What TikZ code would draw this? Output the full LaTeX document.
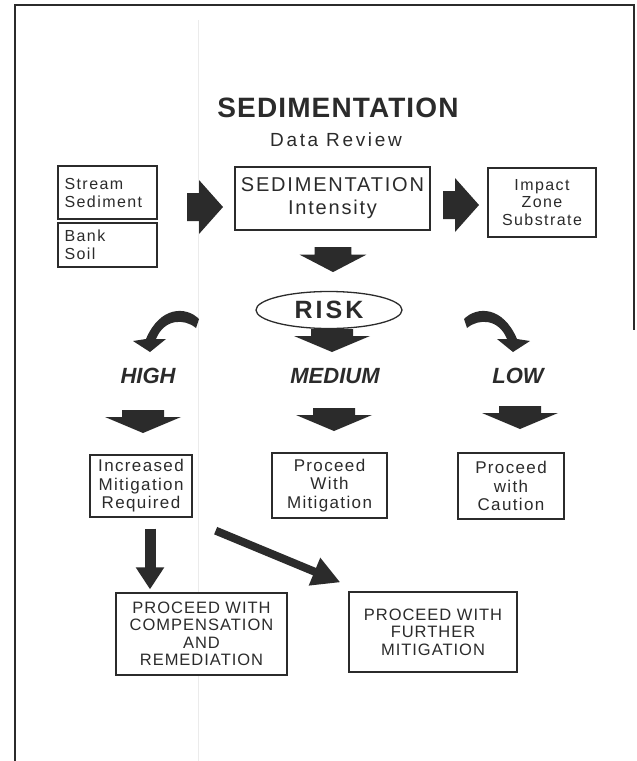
\documentclass[tikz,border=0pt]{standalone}
\usepackage{fontspec}
\setmainfont{Liberation Sans}
\newfontfamily\lssmall[LetterSpace=9]{Liberation Sans}
\newfontfamily\lsmidbox[LetterSpace=8]{Liberation Sans}
\newfontfamily\lsmid[LetterSpace=9]{Liberation Sans}
\newfontfamily\lsdr[LetterSpace=14]{Liberation Sans}
\newfontfamily\lsrisk[LetterSpace=12]{Liberation Sans}
\newfontfamily\lstitle[LetterSpace=4]{Liberation Sans}
\newfontfamily\lsbig[LetterSpace=6]{Liberation Sans}
\usetikzlibrary{calc,arrows.meta,shapes.geometric}
\definecolor{ink}{gray}{0.17}
\begin{document}
\begin{tikzpicture}[x=1pt,y=-1pt,
  box/.style={draw=ink, line width=1.3pt, fill=white, inner sep=0pt, align=center, text=ink,
    font=\lssmall\fontsize{16}{18}\selectfont},
  midbox/.style={box, font=\lsmidbox\fontsize{17}{18.5}\selectfont},
  bigbox/.style={box, font=\lsbig\fontsize{16.5}{17.5}\selectfont},
  level/.style={text=ink, font=\bfseries\itshape\fontsize{22}{24}\selectfont, inner sep=0pt},
  pics/downblk/.style={code={\fill[ink] (-21,0) -- (21,0) -- (21,7) -- (38,7) -- (0,23) -- (-38,7) -- (-21,7) -- cycle;}},
  pics/rightblk/.style={code={\fill[ink] (0,-14) -- (12,-14) -- (12,-27) -- (36,0) -- (12,27) -- (12,14) -- (0,14) -- cycle;}},
  pics/curveblk/.style={code={\fill[ink] (-49,-33) .. controls (-36,-46) and (-10,-46) .. (4,-13)
      -- (17,-11) -- (0,0) -- (-16,-13) -- (-6,-13) .. controls (-14,-33) and (-34,-34) .. (-46,-24) -- cycle;}}
]
\useasboundingbox (0,0) rectangle (637,761);
\fill[white] (0,0) rectangle (637,761);
\draw[black!8, line width=1pt] (198,20) -- (198,761);

% frame
\draw[ink, line width=1.3pt] (15,761) -- (15,5) -- (634,5) -- (634,330);

% title
\node[text=ink, inner sep=0pt, font=\lstitle\bfseries\fontsize{28}{30}\selectfont] (title) at (338,108) {SEDIMENTATION};
\node[text=ink, inner sep=0pt, font=\lsdr\fontsize{19}{21}\selectfont] (review) at (336,139.5) {Data Review};

% boxes
\node[box, text width=86pt, inner xsep=6.5pt, minimum height=53pt, align=left] (stream) at (107.5,192.5) {Stream\\Sediment};
\node[box, text width=86pt, inner xsep=6.5pt, minimum height=44pt, align=left] (bank) at (107.5,245) {Bank\\Soil};
\node[box, minimum width=195pt, minimum height=63pt, font=\lsmid\fontsize{20}{23}\selectfont] (intens) at (332.5,198.5) {SEDIMENTATION\\Intensity};
\node[box, minimum width=108pt, minimum height=69pt, font=\lssmall\fontsize{16}{17.5}\selectfont] (impact) at (542,202.5) {Impact\\Zone\\Substrate};
\node[box, draw=ink, ellipse, minimum width=146pt, minimum height=37pt, font=\lsrisk\bfseries\fontsize{25}{27}\selectfont] (risk) at (329,310) {RISK};
\node[level] (high) at (148,376) {HIGH};
\node[level] (medium) at (335,376) {MEDIUM};
\node[level] (low) at (518,376) {LOW};
\node[midbox, minimum width=102pt, minimum height=62pt] (incr) at (141,486) {Increased\\Mitigation\\Required};
\node[midbox, minimum width=115pt, minimum height=65pt] (pwm) at (329.5,485.5) {Proceed\\With\\Mitigation};
\node[midbox, minimum width=106pt, minimum height=66pt] (pwc) at (511,486) {Proceed\\with\\Caution};
\node[bigbox, minimum width=171pt, minimum height=82pt] (comp) at (201.5,634) {PROCEED WITH\\COMPENSATION\\AND\\REMEDIATION};
\node[bigbox, minimum width=168pt, minimum height=80pt] (further) at (433,632) {PROCEED WITH\\FURTHER\\MITIGATION};

% block arrows
\pic at (187,207) {rightblk};
\pic at (443,205) {rightblk};
\pic[xscale=0.88, yscale=1.09] at (333,247) {downblk};
\pic at (332,329) {downblk};
\pic at (143,410) {downblk};
\pic at (334,408) {downblk};
\pic at (520,406) {downblk};
\pic at (513,352) {curveblk};
\pic[xscale=-1] at (150,352) {curveblk};

% line arrows
\draw[ink, line width=11pt, -{Triangle[length=22pt,width=27pt]}] ($(incr.south)+(9,11)$) -- ($(comp.north)+(-51.5,-3)$);
\draw[ink, line width=8pt, -{Triangle[length=28pt,width=28pt]}] ($(incr.south east)+(23,13)$) -- ($(further.north west)+(-8,-9)$);
\end{tikzpicture}
\end{document}
